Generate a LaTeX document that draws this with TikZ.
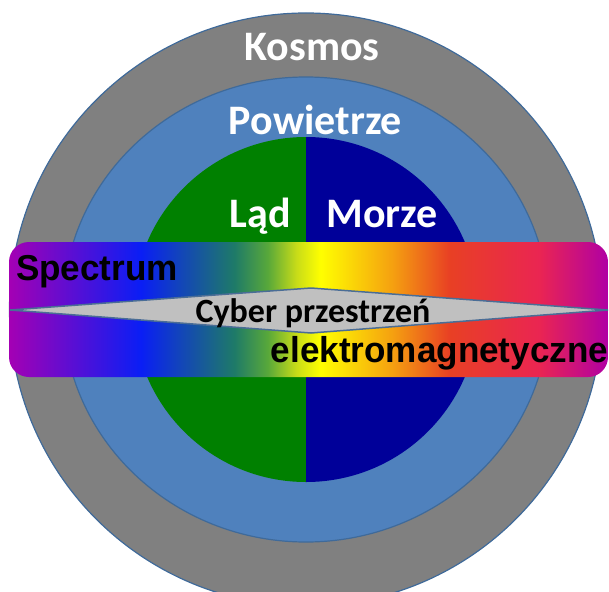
\documentclass[tikz,border=0pt]{standalone}
\usepackage{fontspec}
\setmainfont{Carlito}
\newfontfamily\arialfont[FakeStretch=0.975]{Liberation Sans}
\usetikzlibrary{positioning}

\definecolor{kosmosGray}{HTML}{808080}
\definecolor{airBlue}{HTML}{4F81BD}
\definecolor{ringEdge}{HTML}{3F6A9A}
\definecolor{landGreen}{HTML}{008000}
\definecolor{seaBlue}{HTML}{000099}
\definecolor{cyberGray}{HTML}{C0C0C0}
\definecolor{diamondEdge}{HTML}{4A6D96}
\definecolor{specPurple}{HTML}{A400B4}
\definecolor{specBlue}{HTML}{0A1EF5}
\definecolor{specTeal}{HTML}{1E7A68}
\definecolor{specGreen}{HTML}{58A83A}
\definecolor{specLime}{HTML}{C8DC18}
\definecolor{specYellow}{HTML}{FFFF00}
\definecolor{specOrange}{HTML}{F5A010}
\definecolor{specRed}{HTML}{E84024}
\definecolor{specCrimson}{HTML}{EA2552}
\definecolor{specMagenta}{HTML}{B000A4}

\pgfdeclarehorizontalshading{spectrumShade}{100bp}{
  color(0bp)=(specPurple); color(25bp)=(specPurple);
  color(36bp)=(specBlue); color(43.8bp)=(specTeal);
  color(46.6bp)=(specGreen); color(49bp)=(specLime);
  color(51bp)=(specYellow);
  color(57bp)=(specOrange); color(61.75bp)=(specRed);
  color(69.25bp)=(specCrimson); color(75bp)=(specMagenta);
  color(100bp)=(specMagenta)}

\tikzset{
    ring/.style={draw=ringEdge, line width=1.2pt},
    domainLabel/.style={text=white, font=\bfseries\fontsize{42}{42}\selectfont, anchor=base, inner sep=0pt},
    spectrumText/.style={text=black, font=\arialfont\bfseries\fontsize{36}{36}\selectfont, anchor=base, inner sep=0pt},
    cyberText/.style={text=black, font=\bfseries\fontsize{34}{34}\selectfont, anchor=base, inner sep=0pt}
}

\begin{document}
\begin{tikzpicture}[x=1pt, y=-1pt]
    \useasboundingbox (0,0) rectangle (609,591);
    \clip (0,0) rectangle (609,591);

    % rings
    \path[ring, fill=kosmosGray] (306,309.5) circle[radius=296.5pt];
    \path[ring, fill=airBlue] (306,309.5) ellipse[x radius=243pt, y radius=232.5pt];
    \fill[landGreen] (306,137) arc[start angle=90, end angle=270, radius=172.5pt] -- cycle;
    \fill[seaBlue] (306,137) arc[start angle=90, end angle=-90, radius=172.5pt] -- cycle;

    % spectrum band and cyber diamond
    \shade[shading=spectrumShade, rounded corners=20pt] (9,242) rectangle (608,377);
    \path[draw=diamondEdge, line width=1.5pt, fill=cyberGray]
        (10,310) -- (311,288) -- (608,310) -- (311,333) -- cycle;

    \node[domainLabel] (kosmos) at (312,61) {Kosmos};
    \node[domainLabel] (powietrze) at (315.5,134) {Powietrze};
    \node[domainLabel] (lad) at (260,227) {Ląd};
    \node[domainLabel] (morze) at (382,227) {Morze};
    \node[spectrumText] (spectrum) at (97,280) {Spectrum};
    \node[cyberText] (cyber) at (313,322) {Cyber przestrzeń};
    \node[spectrumText] (elektro) at (439.5,362) {elektromagnetyczne};
\end{tikzpicture}
\end{document}
